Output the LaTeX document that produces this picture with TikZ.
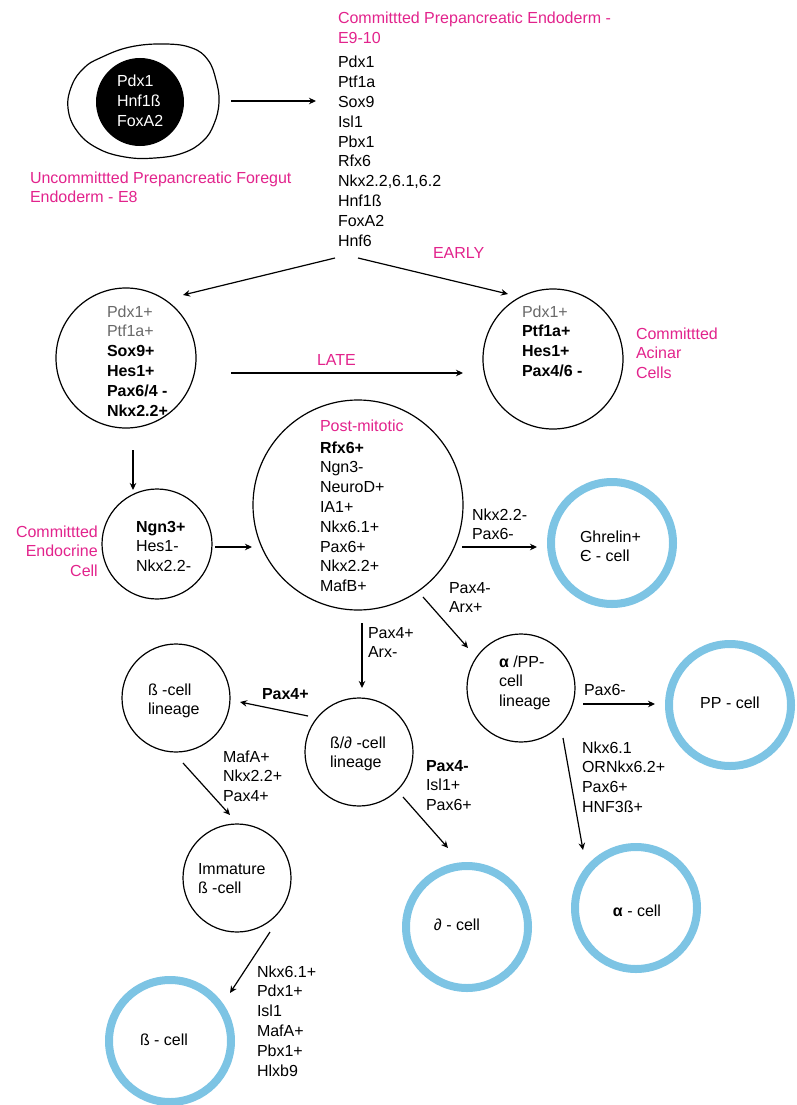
\documentclass[tikz,border=0pt]{standalone}
\usepackage{fontspec}
\setmainfont{Liberation Sans}
\usetikzlibrary{arrows.meta}
\definecolor{mag}{RGB}{226,35,140}
\definecolor{cblue}{RGB}{125,196,228}
\definecolor{lgray}{RGB}{105,105,105}
\newcommand{\lstl}[1]{\begin{tabular}[t]{@{}l@{}}#1\end{tabular}}
\newcommand{\lstr}[1]{\begin{tabular}[t]{@{}r@{}}#1\end{tabular}}
\tikzset{
  txt/.style={anchor=base west, inner sep=0pt, outer sep=0pt},
  ptxt/.style={txt, text=mag},
  ctxt/.style={anchor=base, inner sep=0pt, outer sep=0pt},
  cellc/.style={circle, draw, line width=1.2pt, inner sep=0pt, minimum size=#1},
  ring/.style={circle, draw=cblue, line width=8pt, inner sep=0pt, minimum size=#1},
  arr/.style={-{Stealth[length=7pt,width=6.5pt]}, line width=1.2pt},
}
\begin{document}
\begin{tikzpicture}[x=1pt,y=-1pt,font=\fontsize{16pt}{19.8pt}\selectfont]
\useasboundingbox (0,0) rectangle (796,1105);

% ---------- uncommitted foregut endoderm ----------
\draw[line width=1.2pt] plot[smooth cycle, tension=0.7] coordinates {
  (100,58) (130,47) (165,44) (192,48) (208,60) (216,80) (219,102) (214,124)
  (203,141) (183,153) (155,158) (125,157) (97,148) (77,131) (68,108) (72,85) (84,68)};
\node[circle, fill=black, inner sep=0pt, minimum size=88pt] (core) at (140,102) {};
\node[txt, text=white] (coretxt) at (117,87) {\lstl{Pdx1\\Hnf1ß\\FoxA2}};
\node[ptxt] (uncomm) at (30,183) {\lstl{Uncommittted Prepancreatic Foregut\\Endoderm - E8}};

% ---------- committed prepancreatic endoderm ----------
\node[ptxt] (commtitle) at (338,24) {\lstl{Committted Prepancreatic Endoderm -\\E9-10}};
\node[txt] (list) at (338,68) {\lstl{Pdx1\\Ptf1a\\Sox9\\Isl1\\Pbx1\\Rfx6\\Nkx2.2,6.1,6.2\\Hnf1ß\\FoxA2\\Hnf6}};
\node[ptxt] (early) at (433,258) {EARLY};

% ---------- progenitor & acinar ----------
\node[cellc=140pt] (prog) at (126,358) {};
\node[txt] (progtxt) at (107,317) {\lstl{\textcolor{lgray}{Pdx1+}\\\textcolor{lgray}{Ptf1a+}\\\textbf{Sox9+}\\\textbf{Hes1+}\\\textbf{Pax6/4 -}\\\textbf{Nkx2.2+}}};
\node[cellc=140pt] (acinar) at (553,359) {};
\node[txt] (acintxt) at (522,317) {\lstl{\textcolor{lgray}{Pdx1+}\\\textbf{Ptf1a+}\\\textbf{Hes1+}\\\textbf{Pax4/6 -}}};
\node[ptxt] (acinlab) at (636,339) {\lstl{Committted\\Acinar\\Cells}};
\node[ptxt] (late) at (317,365) {LATE};

% ---------- endocrine ----------
\node[cellc=110pt] (endo) at (157,544) {};
\node[txt] (endotxt) at (136,532) {\lstl{\textbf{Ngn3+}\\Hes1-\\Nkx2.2-}};
\node[anchor=base east, inner sep=0pt, text=mag] (endolab) at (98,537) {\lstr{Committted\\Endocrine\\Cell}};

% ---------- post-mitotic ----------
\node[cellc=210pt] (post) at (358,505) {};
\node[ptxt] (posttitle) at (320,431) {Post-mitotic};
\node[txt] (posttxt) at (320,453) {\lstl{\textbf{Rfx6+}\\Ngn3-\\NeuroD+\\IA1+\\Nkx6.1+\\Pax6+\\Nkx2.2+\\MafB+}};

% ---------- ghrelin ----------
\node[ring=122pt] (ghrelin) at (612,543) {};
\node[txt] (ghreltxt) at (580,542) {\lstl{Ghrelin+\\Є - cell}};
\node[txt] (lab1) at (472,520) {\lstl{Nkx2.2-\\Pax6-}};
\node[txt] (lab2) at (449,593) {\lstl{Pax4-\\Arx+}};

% ---------- alpha/PP lineage ----------
\node[cellc=108pt] (apl) at (521,688) {};
\node[txt] (apltxt) at (499,667) {\lstl{\textbf{α} /PP-\\cell\\lineage}};
\node[ring=122pt] (pp) at (730,705) {};
\node[ctxt] (pptxt) at (730,708) {PP - cell};
\node[txt] (lab3) at (584,695) {Pax6-};
\node[txt] (lab4) at (582,753) {\lstl{Nkx6.1\\ORNkx6.2+\\Pax6+\\HNF3ß+}};
\node[ring=122pt] (alpha) at (636,908) {};
\node[ctxt] (alphatxt) at (637,916) {\textbf{α} - cell};

% ---------- beta/delta lineage ----------
\node[cellc=108pt] (bd) at (359,752) {};
\node[txt] (bdtxt) at (330,748) {\lstl{ß/∂ -cell\\lineage}};
\node[txt] (lab5) at (368,638) {\lstl{Pax4+\\Arx-}};
\node[txt] (lab6) at (426,771) {\lstl{\textbf{Pax4-}\\Isl1+\\Pax6+}};
\node[ring=122pt] (delta) at (467,927) {};
\node[ctxt] (deltatxt) at (457,930) {∂ - cell};

% ---------- beta lineage ----------
\node[cellc=108pt] (blin) at (176,698) {};
\node[txt] (blintxt) at (148,695) {\lstl{ß -cell\\lineage}};
\node[txt] (lab7) at (262,699) {\textbf{Pax4+}};
\node[txt] (lab8) at (223,762) {\lstl{MafA+\\Nkx2.2+\\Pax4+}};
\node[cellc=108pt] (imm) at (237,878) {};
\node[txt] (immtxt) at (198,874) {\lstl{Immature\\ß -cell}};
\node[txt] (lab9) at (257,977) {\lstl{Nkx6.1+\\Pdx1+\\Isl1\\MafA+\\Pbx1+\\Hlxb9}};
\node[ring=122pt] (beta) at (170,1041) {};
\node[ctxt] (betatxt) at (164,1045) {ß - cell};

% ---------- connector end points ----------
\coordinate (e1s) at (231,101);  \coordinate (e1e) at (316,101);
\coordinate (e2s) at (335,258);  \coordinate (e2e) at (183,295);
\coordinate (e3s) at (358,258);  \coordinate (e3e) at (508,294);
\coordinate (e4s) at (231,373);  \coordinate (e4e) at (463,373);
\coordinate (e5s) at (133,450);  \coordinate (e5e) at (133,490);
\coordinate (e6s) at (215,547);  \coordinate (e6e) at (252,547);
\coordinate (e7s) at (462,547);  \coordinate (e7e) at (537,547);
\coordinate (e8s) at (423,597);  \coordinate (e8e) at (468,648);
\coordinate (e9s) at (362,623);  \coordinate (e9e) at (362,688);
\coordinate (e10s) at (308,716); \coordinate (e10e) at (240,702);
\coordinate (e11s) at (183,763); \coordinate (e11e) at (230,815);
\coordinate (e12s) at (270,932); \coordinate (e12e) at (230,993);
\coordinate (e13s) at (403,797); \coordinate (e13e) at (448,848);
\coordinate (e14s) at (583,704); \coordinate (e14e) at (655,704);
\coordinate (e15s) at (563,738); \coordinate (e15e) at (583,850);

\draw[arr] (e1s) -- (e1e);
\draw[arr] (e2s) -- (e2e);
\draw[arr] (e3s) -- (e3e);
\draw[arr] (e4s) -- (e4e);
\draw[arr] (e5s) -- (e5e);
\draw[arr] (e6s) -- (e6e);
\draw[arr] (e7s) -- (e7e);
\draw[arr] (e8s) -- (e8e);
\draw[arr] (e9s) -- (e9e);
\draw[arr] (e10s) -- (e10e);
\draw[arr] (e11s) -- (e11e);
\draw[arr] (e12s) -- (e12e);
\draw[arr] (e13s) -- (e13e);
\draw[arr] (e14s) -- (e14e);
\draw[arr] (e15s) -- (e15e);
\end{tikzpicture}
\end{document}
